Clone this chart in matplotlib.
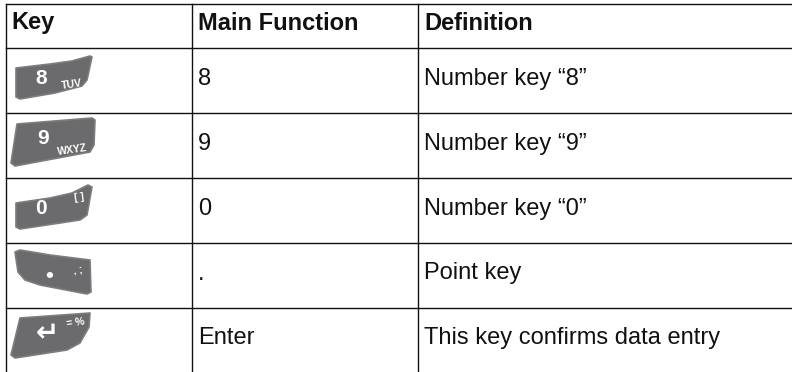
import matplotlib
matplotlib.use("Agg")
import matplotlib.pyplot as plt
from matplotlib.patches import Polygon

W = 792
H = 372

headers = ["Key", "Main Function", "Definition"]
main_functions = ["8", "9", "0", ".", "Enter"]
definitions = ["Number key \u201c8\u201d", "Number key \u201c9\u201d", "Number key \u201c0\u201d",
               "Point key", "This key confirms data entry"]
key_labels = ["8", "9", "0", "\u2022", "\u21b5"]
key_sublabels = ["TUV", "WXYZ", "[ ]", ", ;", "= %"]

col_x = [5.5, 191.5, 418, 792]
row_y = [3.5, 48, 113, 178, 243, 307.5]
baselines = [85, 150, 215, 279.5, 344]

key_shapes = [
    [(16, 68), (50, 64), (72, 61), (90, 56), (92, 57), (87, 80), (82, 86), (55, 93), (20, 99), (16, 97)],
    [(17, 124), (92, 118), (95, 120), (94, 145), (90, 152), (15, 166), (11, 163)],
    [(16, 203), (50, 198), (72, 193), (88, 185), (92, 187), (87, 215), (80, 220), (20, 229), (16, 227)],
    [(15, 252), (20, 250), (50, 255), (90, 260), (91, 292), (87, 294), (40, 285), (25, 280), (18, 272)],
    [(20, 318), (90, 313), (89, 327), (80, 343), (67, 350), (15, 358), (11, 355)],
]
label_pos = [(41.5, 79), (43, 139), (41, 209), (49, 276), (47, 334)]
sublabel_pos = [(72, 85), (72, 150), (79, 197), (78, 270), (76, 323)]
label_sizes = [15, 15, 15, 16, 20]

plt.rcParams['font.family'] = ['Liberation Sans', 'DejaVu Sans']
fig = plt.figure(figsize=(W / 100, H / 100), dpi=100)
ax = fig.add_axes([0, 0, 1, 1])
ax.set_xlim(0, W)
ax.set_ylim(H, 0)
ax.axis("off")

# table grid, the bottom edge falls outside the picture
for y in row_y:
    ax.plot([col_x[0], col_x[-1]], [y, y], color="#111111", lw=1.0)
for x in col_x[:3]:
    ax.plot([x, x], [row_y[0], H], color="#111111", lw=1.0)

text_x = [11.5, 198, 424]
for i, head in enumerate(headers):
    ax.text(text_x[i], 29.5, head, fontsize=17, fontweight="bold", va="baseline", color="#111111")

for i in range(len(main_functions)):
    ax.text(text_x[1], baselines[i], main_functions[i], fontsize=17, va="baseline", color="#111111")
    ax.text(text_x[2], baselines[i], definitions[i], fontsize=17, va="baseline", color="#111111")

    # key picture
    ax.add_patch(Polygon(key_shapes[i], closed=True, facecolor="#6b6b6d", edgecolor="#7d7d7f",
                         lw=1.2, joinstyle="round"))
    ax.text(label_pos[i][0], label_pos[i][1], key_labels[i], color="white", fontsize=label_sizes[i],
            fontweight="bold", ha="center", va="center")
    ax.text(sublabel_pos[i][0], sublabel_pos[i][1], key_sublabels[i], color="white", fontsize=7.5,
            fontweight="bold", ha="center", va="center", rotation=8)

fig.savefig("out.png", dpi=100)
